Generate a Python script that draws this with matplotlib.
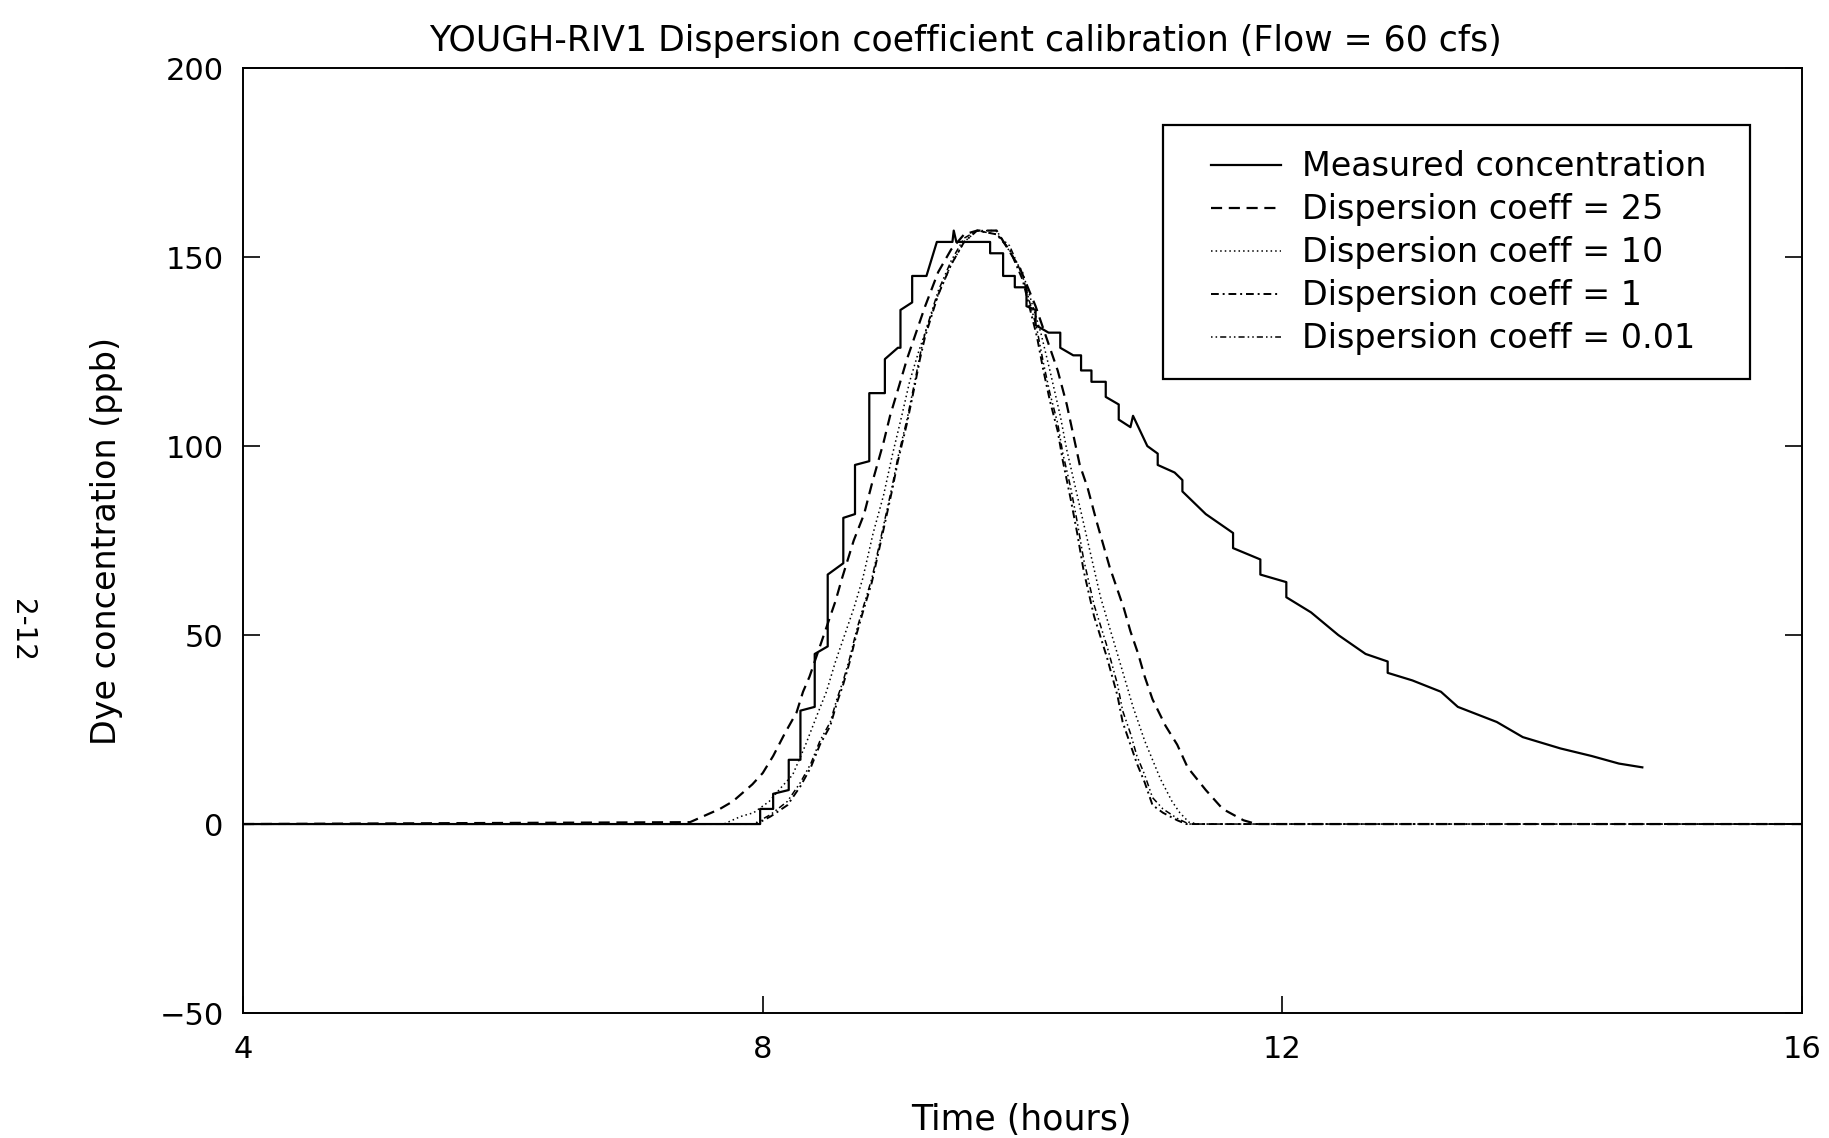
import numpy as np
import matplotlib
matplotlib.use("Agg")
import matplotlib.pyplot as plt
from matplotlib.patches import Rectangle

# measured dye trace (repeated times = vertical steps of the strip-chart record)
meas_t = [4.0, 7.98, 7.98, 8.08, 8.08, 8.20, 8.20, 8.29, 8.29, 8.40, 8.40, 8.50, 8.50,
          8.62, 8.62, 8.71, 8.71, 8.82, 8.82, 8.94, 8.94, 9.04, 9.06, 9.06, 9.15, 9.15,
          9.26, 9.34, 9.46, 9.47, 9.49, 9.75, 9.75, 9.85, 9.85, 9.94, 9.94, 10.03, 10.03,
          10.10, 10.10, 10.20, 10.29, 10.29, 10.39, 10.45, 10.45, 10.53, 10.53, 10.64,
          10.64, 10.74, 10.74, 10.83, 10.85, 10.96, 11.04, 11.04, 11.17, 11.23, 11.23,
          11.41, 11.62, 11.62, 11.83, 11.83, 12.03, 12.03, 12.22, 12.43, 12.64, 12.81,
          12.81, 13.00, 13.22, 13.35, 13.65, 13.85, 14.14, 14.38, 14.59, 14.77]
meas_c = [0, 0, 4, 4, 8, 9, 17, 17, 30, 31, 45, 47, 66,
          69, 81, 82, 95, 96, 114, 114, 123, 126, 126, 136, 138, 145,
          145, 154, 154, 157, 154, 154, 151, 151, 145, 145, 142, 142, 137,
          136, 132, 130, 130, 126, 124, 124, 120, 120, 117, 117,
          113, 111, 107, 105, 108, 100, 98, 95, 93, 91, 88,
          82, 77, 73, 70, 66, 64, 60, 56, 50, 45, 43,
          40, 38, 35, 31, 27, 23, 20, 18, 16, 15]

# model runs, one per dispersion coefficient
d25_t = [4.0, 7.44, 7.67, 7.77, 7.92, 8.00, 8.08, 8.17, 8.26, 8.31, 8.36, 8.44, 8.56,
         8.61, 8.70, 8.78, 8.84, 8.93, 8.98, 9.05, 9.11, 9.16, 9.25, 9.35, 9.45, 9.55,
         9.65, 9.80, 9.98, 10.10, 10.21, 10.27, 10.34, 10.39, 10.44, 10.50, 10.57,
         10.62, 10.67, 10.73, 10.78, 10.83, 10.89, 10.94, 11.00, 11.10, 11.19, 11.27,
         11.41, 11.54, 11.70, 11.80, 16.0]
d25_c = [0, 0.5, 4, 6, 10.5, 13.5, 18, 24, 29.5, 35, 39, 47, 59,
         65, 75, 82, 90, 101, 108, 116, 123, 128, 137, 146, 152, 156,
         157, 157, 147, 137, 126, 120, 111, 103, 95, 89, 80,
         74, 68, 62, 57, 51, 45, 39, 33, 26, 21, 15,
         9, 4, 1, 0, 0]

d10_t = [4.0, 7.70, 7.83, 7.93, 8.05, 8.15, 8.23, 8.33, 8.42, 8.49, 8.56, 8.65, 8.70,
         8.77, 8.85, 8.93, 9.00, 9.07, 9.13, 9.20, 9.26, 9.35, 9.45, 9.55, 9.65, 9.80,
         10.00, 10.14, 10.21, 10.29, 10.34, 10.42, 10.52, 10.60, 10.73, 10.85, 10.94,
         11.06, 11.15, 11.21, 11.28, 11.35, 16.0]
d10_c = [0, 0, 2, 3, 6, 10, 13, 21, 29, 35, 43, 52, 57,
         65, 77, 87, 98, 108, 117, 125, 131, 140, 148, 154, 157, 157,
         146, 130, 120, 108, 99, 87, 72, 60, 45, 31, 22,
         12, 6, 3, 0.5, 0, 0]

d1_t = [4.0, 7.95, 8.06, 8.19, 8.29, 8.37, 8.44, 8.52, 8.57, 8.62, 8.67, 8.72, 8.77,
        8.84, 8.93, 9.00, 9.04, 9.11, 9.17, 9.21, 9.25, 9.35, 9.45, 9.55, 9.65, 9.80,
        9.90, 10.00, 10.11, 10.16, 10.21, 10.27, 10.31, 10.37, 10.42, 10.47, 10.55,
        10.65, 10.73, 10.77, 10.83, 10.88, 10.94, 11.00, 11.08, 11.19, 11.26, 16.0]
d1_c = [0, 0, 2, 5, 10, 15, 21, 26, 32, 37, 43, 50, 56,
        64, 78, 89, 96, 106, 116, 123, 129, 140, 148, 154, 157, 156,
        152, 144, 129, 120, 112, 104, 96, 86, 77, 67, 55,
        44, 34, 27, 21, 16, 11, 5, 3, 1, 0, 0]

d001_t = [4.0, 7.93, 8.06, 8.19, 8.29, 8.37, 8.44, 8.52, 8.57, 8.62, 8.67, 8.72, 8.77,
          8.84, 8.93, 9.00, 9.04, 9.11, 9.17, 9.21, 9.25, 9.35, 9.45, 9.55, 9.65, 9.80,
          9.90, 10.00, 10.11, 10.16, 10.21, 10.27, 10.31, 10.37, 10.42, 10.47, 10.55,
          10.65, 10.73, 10.77, 10.83, 10.88, 10.94, 11.00, 11.08, 11.19, 11.28, 16.0]
d001_c = [0, 0, 2.5, 6, 11, 16, 22, 27, 33, 38, 44, 51, 57,
          65, 79, 90, 97, 107, 117, 124, 130, 141, 149, 155, 157, 156,
          153, 145, 131, 122, 114, 106, 98, 89, 80, 70, 58,
          47, 37, 30, 24, 18, 13, 7, 4, 1.5, 0, 0]

x_ticks = [4, 8, 12, 16]
y_ticks = [-50, 0, 50, 100, 150, 200]

plt.rcParams['font.family'] = ['DejaVu Sans']
plt.rcParams['axes.linewidth'] = 1.4

fig = plt.figure(figsize=(18.29, 11.38), dpi=100)
ax = fig.add_axes([0.1329, 0.1098, 0.8524, 0.8304])

ax.plot(meas_t, meas_c, color='black', lw=1.6, ls='-', label='Measured concentration')
ax.plot(d25_t, d25_c, color='black', lw=1.6, ls=(0, (5, 3)), label='Dispersion coeff = 25')
ax.plot(d10_t, d10_c, color='black', lw=1.1, ls=(0, (1, 2)), label='Dispersion coeff = 10')
ax.plot(d1_t, d1_c, color='black', lw=1.4, ls=(0, (4, 2, 1, 2)), label='Dispersion coeff = 1')
ax.plot(d001_t, d001_c, color='black', lw=1.1, ls=(0, (1, 2, 1, 2, 4, 2)),
        label='Dispersion coeff = 0.01')

ax.set_xlim(4, 16)
ax.set_ylim(-50, 200)
ax.set_xticks(x_ticks)
ax.set_yticks(y_ticks)
ax.tick_params(direction='in', length=12, width=1.2, labelsize=22, pad=14,
               right=True, top=False)
ax.tick_params(axis='x', pad=16)

ax.set_ylabel('Dye concentration (ppb)', fontsize=24, labelpad=26)
fig.text(0.5585, 0.016, 'Time (hours)', ha='center', va='center', fontsize=25)
fig.text(0.5276, 0.964, 'YOUGH-RIV1 Dispersion coefficient calibration (Flow = 60 cfs)',
         ha='center', va='center', fontsize=25)
fig.text(0.012, 0.446, '2-12', rotation=270, ha='center', va='center', fontsize=20)

# legend box drawn by hand, wider padding than matplotlib's frame allows
leg = ax.legend(loc='upper left', bbox_to_anchor=(0.621, 0.913), borderaxespad=0,
                fontsize=24, frameon=False, handlelength=2.1, labelspacing=0.30,
                borderpad=0, handletextpad=0.63)
ax.add_patch(Rectangle((0.590, 0.6709), 0.3766, 0.2688, transform=ax.transAxes,
                       fill=False, edgecolor='black', lw=1.6, zorder=5))

plt.savefig('out.png', dpi=100)
